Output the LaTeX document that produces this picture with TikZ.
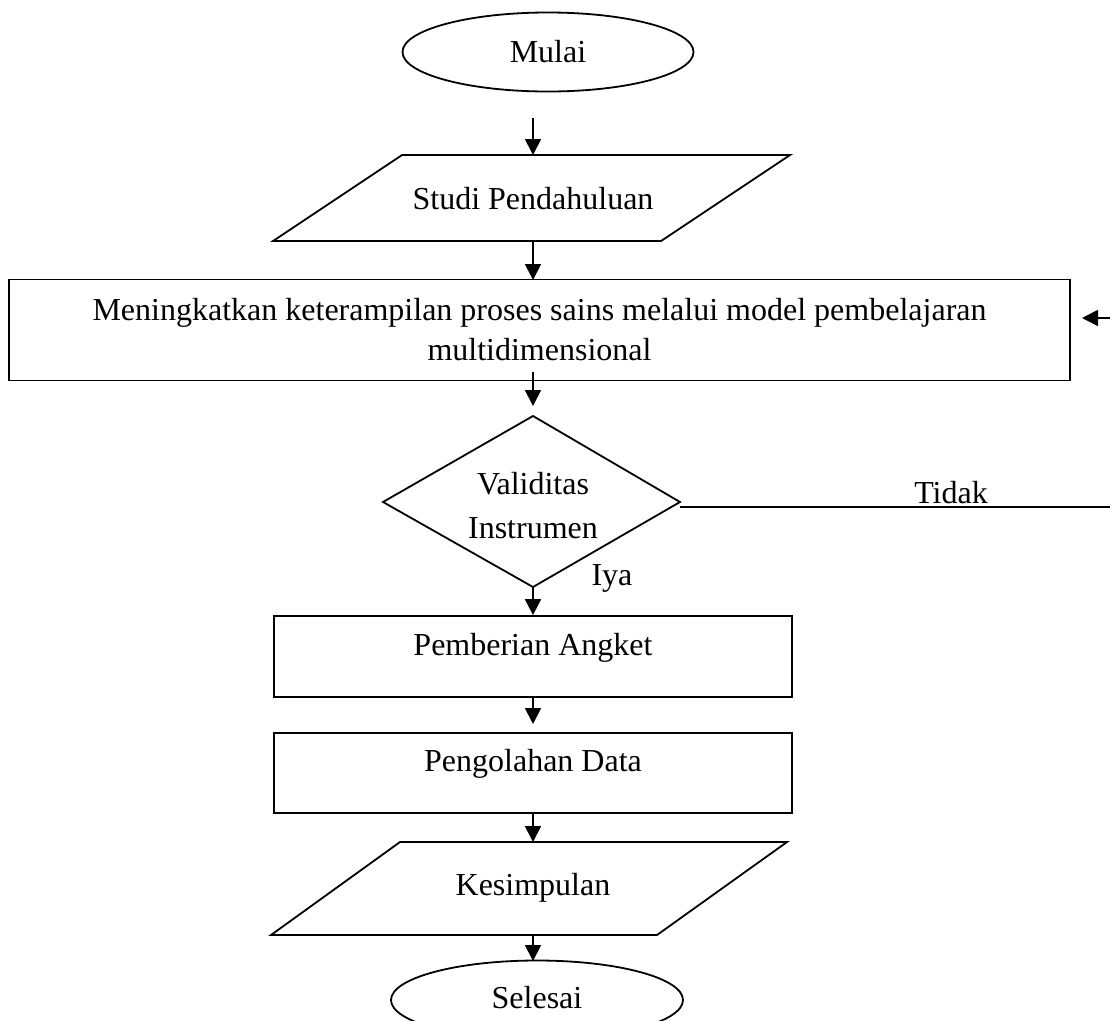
\documentclass[tikz,border=0pt]{standalone}
\usepackage{fontspec}
\setmainfont{Liberation Serif}
\usetikzlibrary{arrows.meta,shapes.geometric}
\begin{document}
\begin{tikzpicture}[x=1pt,y=-1pt,
  every node/.style={font=\fontsize{32pt}{40pt}\selectfont, inner sep=0pt},
  shp/.style={draw, line width=1.8pt, line join=miter},
  arr/.style={line width=1.8pt, -{Triangle[width=16pt,length=16pt]}},
  plain/.style={line width=1.8pt}]
\useasboundingbox (0,0) rectangle (1110,1020);
% start
\node[shp, ellipse, minimum width=291pt, minimum height=79pt] (mulai) at (548,52) {};
\node (mulaiT) at (548,52) {Mulai};
% studi pendahuluan
\draw[shp] (402,155) -- (790,155) -- (661,241) -- (273,241) -- cycle;
\node (studi) at (533,199) {Studi Pendahuluan};
\coordinate (studiT) at (533,155);
\coordinate (studiB) at (533,241);
% main rectangle
\node[shp, rectangle, minimum width=1061pt, minimum height=101pt, align=center] (meng) at (539.5,330)
  {Meningkatkan keterampilan proses sains melalui model pembelajaran\\multidimensional};
% decision
\draw[shp] (533,416) coordinate (decT) -- (680,502) coordinate (decR) -- (533,587) coordinate (decB) -- (383,502) -- cycle;
\node[align=center, font=\fontsize{32pt}{44pt}\selectfont] (dec) at (533,506) {Validitas\\Instrumen};
\node (iya) at (612,578) {Iya};
\node (tidak) at (951,493) {Tidak};
% process boxes
\node[shp, rectangle, minimum width=518pt, minimum height=81pt] (angket) at (533,656.5) {};
\node (angketT) at (533,648) {Pemberian Angket};
\node[shp, rectangle, minimum width=518pt, minimum height=80pt] (olah) at (533,773) {};
\node (olahT) at (533,764) {Pengolahan Data};
% kesimpulan
\draw[shp] (400,842) -- (787,842) -- (657,935) -- (271,935) -- cycle;
\node (kes) at (533,888) {Kesimpulan};
\coordinate (kesT) at (533,842);
\coordinate (kesB) at (533,935);
% end
\node[shp, ellipse, minimum width=292pt, minimum height=79pt] (selesai) at (537,1000) {};
\node (selesaiT) at (537,998) {Selesai};
% connector coordinates
\coordinate (a1) at (533,118);
\coordinate (a3) at (533,372);
\coordinate (a3e) at (533,406);
\coordinate (a2e) at (533,280);
\coordinate (a5e) at (533,724);
\coordinate (a7e) at (533,961);
\coordinate (rightLow) at (1110,507);
\coordinate (rightUp) at (1110,318);
\coordinate (backTip) at (1082,318);
\coordinate (decRl) at (680,507);
% connectors
\draw[arr] (a1) -- (studiT);
\draw[arr] (studiB) -- (a2e);
\draw[arr] (a3) -- (a3e);
\draw[arr] (decB) -- (angket.north);
\draw[arr] (angket.south) -- (a5e);
\draw[arr] (olah.south) -- (kesT);
\draw[arr] (kesB) -- (a7e);
\draw[plain] (decRl) -- (rightLow);
\draw[arr] (rightUp) -- (backTip);
\end{tikzpicture}
\end{document}
